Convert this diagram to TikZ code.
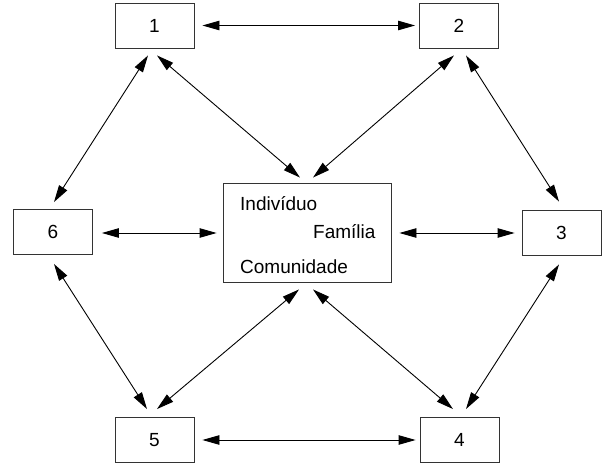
\documentclass[tikz,border=0pt]{standalone}
\usepackage{fontspec}
\setmainfont{Liberation Sans}
\usetikzlibrary{arrows.meta,calc}
\begin{document}
\begin{tikzpicture}[x=1pt,y=-1pt,
  box/.style={draw=black!80, line width=0.9pt, minimum width=79pt, minimum height=45pt, inner sep=0pt, font=\fontsize{19}{21}\selectfont},
  lbl/.style={anchor=base west, inner sep=0pt, font=\fontsize{19}{21}\selectfont},
  link/.style={{Triangle[length=17pt,width=9.5pt]}-{Triangle[length=17pt,width=9.5pt]}, line width=0.9pt}]
\useasboundingbox (0,0) rectangle (603,465);
\node[box] (n1) at (154.5,25.5) {1};
\node[box] (n2) at (459,25.5) {2};
\node[box] (n6) at (53,232) {6};
\node[box] (n3) at (561.5,232.5) {3};
\node[box] (n5) at (154.5,440) {5};
\node[box] (n4) at (459.5,440) {4};
\node[draw=black!80, line width=0.9pt, minimum width=168pt, minimum height=99pt, inner sep=0pt] (c) at (307,232.5) {};
\node[lbl] (t1) at (240,211) {Indivíduo};
\node[lbl] (t2) at (313,239) {Família};
\node[lbl] (t3) at (240,274) {Comunidade};
% horizontal
\draw[link, shorten <=8pt, shorten >=4pt] (n1.east) -- (n2.west);
\draw[link, shorten <=8pt, shorten >=4pt] (n5.east) -- (n4.west);
\draw[link, shorten <=9pt, shorten >=6pt] ($(n6.east)+(0,1)$) -- ($(c.west)+(0,0.5)$);
\draw[link, shorten <=8pt, shorten >=7pt] ($(c.east)+(0,0.5)$) -- ($(n3.west)+(0,0.5)$);
% diagonals
\draw[link] ($(n1.south)+(-6.5,7)$) -- ($(n6.north)+(1,-7)$);
\draw[link] ($(n1.south)+(2.5,7)$) -- ($(c.north)+(-7,-5)$);
\draw[link] ($(n2.south)+(-5,7)$) -- ($(c.north)+(6,-5)$);
\draw[link] ($(n2.south)+(7,7)$) -- ($(n3.north)+(-2.5,-8)$);
\draw[link] ($(n6.south)+(1,9)$) -- ($(n5.north)+(-7.5,-8)$);
\draw[link] ($(n5.north)+(2.5,-8)$) -- ($(c.south)+(-8,7)$);
\draw[link] ($(n3.south)+(-2.5,9)$) -- ($(n4.north)+(6.5,-8)$);
\draw[link] ($(n4.north)+(-6.5,-8)$) -- ($(c.south)+(6,7)$);
\end{tikzpicture}
\end{document}
